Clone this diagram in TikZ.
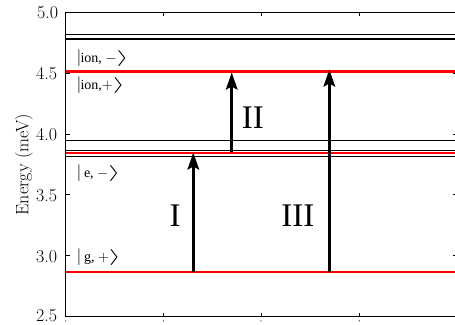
\documentclass[tikz,border=0pt]{standalone}
\usepackage{fontspec}
\usepackage{graphicx}
\usetikzlibrary{arrows.meta}
\newfontfamily\timesf{Liberation Serif}
\newcommand{\kbar}{\scalebox{1}[1.3]{|}}
\newcommand{\kang}{\scalebox{2.2}[1.1]{$\rangle$}}
\tikzset{
  lvl/.style={line width=1pt, black},
  lvlred/.style={line width=2pt, red},
  trans/.style={line width=3pt, -{Stealth[length=17pt,width=11.5pt,inset=3pt]}},
  ticklab/.style={anchor=east, inner sep=0pt, font=\fontsize{18}{20}\selectfont},
  ketlab/.style={anchor=west, inner sep=0pt, font=\timesf\fontsize{14}{16}\selectfont},
  romlab/.style={inner sep=0pt, font=\timesf\fontsize{33}{36}\selectfont},
  spine/.style={line width=1.2pt},
  tickmark/.style={line width=1pt}
}
\begin{document}
\begin{tikzpicture}[x=1pt,y=-1pt]
\useasboundingbox (0,0) rectangle (455,324);
\begin{scope}
\clip (0,0) rectangle (455,324);
% energy levels
\draw[lvl] (65.7,34.3) -- (460,34.3);
\draw[lvl, line width=2pt] (65.7,39) -- (460,39);
\draw[lvlred, line width=3pt] (65.7,71) -- (460,71);
\draw[lvl] (65.7,140.3) -- (460,140.3);
\draw[lvl] (65.7,150.3) -- (460,150.3);
\draw[lvlred] (65.7,153) -- (460,153);
\draw[lvl] (65.7,156.3) -- (460,156.3);
\draw[lvlred] (65.7,271.7) -- (460,271.7);
% transitions
\coordinate (g1) at (193.3,271.7);
\coordinate (e1) at (193.3,152.5);
\coordinate (e2) at (231.7,151.7);
\coordinate (i2) at (231.7,72.5);
\coordinate (g3) at (329.3,271.7);
\coordinate (i3) at (329.3,69.5);
\draw[trans] (g1) -- (e1);
\draw[trans] (e2) -- (i2);
\draw[trans] (g3) -- (i3);
% axes frame
\draw[spine] (65.7,12.3) rectangle (457.3,316.7);
% y ticks (left and right)
\foreach \yy in {12.3,73.2,134.1,194.9,255.8,316.7}{
  \draw[tickmark] (65.7,\yy) -- (69.7,\yy);
  \draw[tickmark] (457.3,\yy) -- (453.3,\yy);
}
% x ticks (top and bottom)
\foreach \xx in {65.7,163.3,261,359.3}{
  \draw[tickmark] (\xx,12.3) -- (\xx,16.3);
  \draw[tickmark] (\xx,316.7) -- (\xx,312.7);
  \fill (\xx,320.9) circle (0.6);
}
\end{scope}
% tick labels
\node[ticklab] (t50) at (58.3,12.8) {5.0};
\node[ticklab] (t45) at (57.3,73.7) {4.5};
\node[ticklab] (t40) at (57.3,134.6) {4.0};
\node[ticklab] (t35) at (57.3,195.4) {3.5};
\node[ticklab] (t30) at (57.3,256.3) {3.0};
\node[ticklab] (t25) at (57.3,315.3) {2.5};
% axis label
\node[rotate=90, anchor=base, inner sep=0pt, font=\fontsize{18}{20}\selectfont] (ylab) at (28.3,164.5) {Energy (meV)};
% state labels
\node[ketlab] (kim) at (77.5,58) {\kbar ion, $-$\kang};
\node[ketlab] (kip) at (77.5,85) {\kbar ion,$+$\kang};
\node[ketlab] (kem) at (77.5,173.3) {\kbar\ e, $-$\kang};
\node[ketlab] (kgp) at (77.5,256.7) {\kbar\ g, $+$\kang};
% transition labels
\node[romlab] (lI) at (175,215.5) {I};
\node[romlab] (lII) at (252.8,118) {II};
\node[romlab] (lIII) at (297.8,215.5) {III};
\end{tikzpicture}
\end{document}
